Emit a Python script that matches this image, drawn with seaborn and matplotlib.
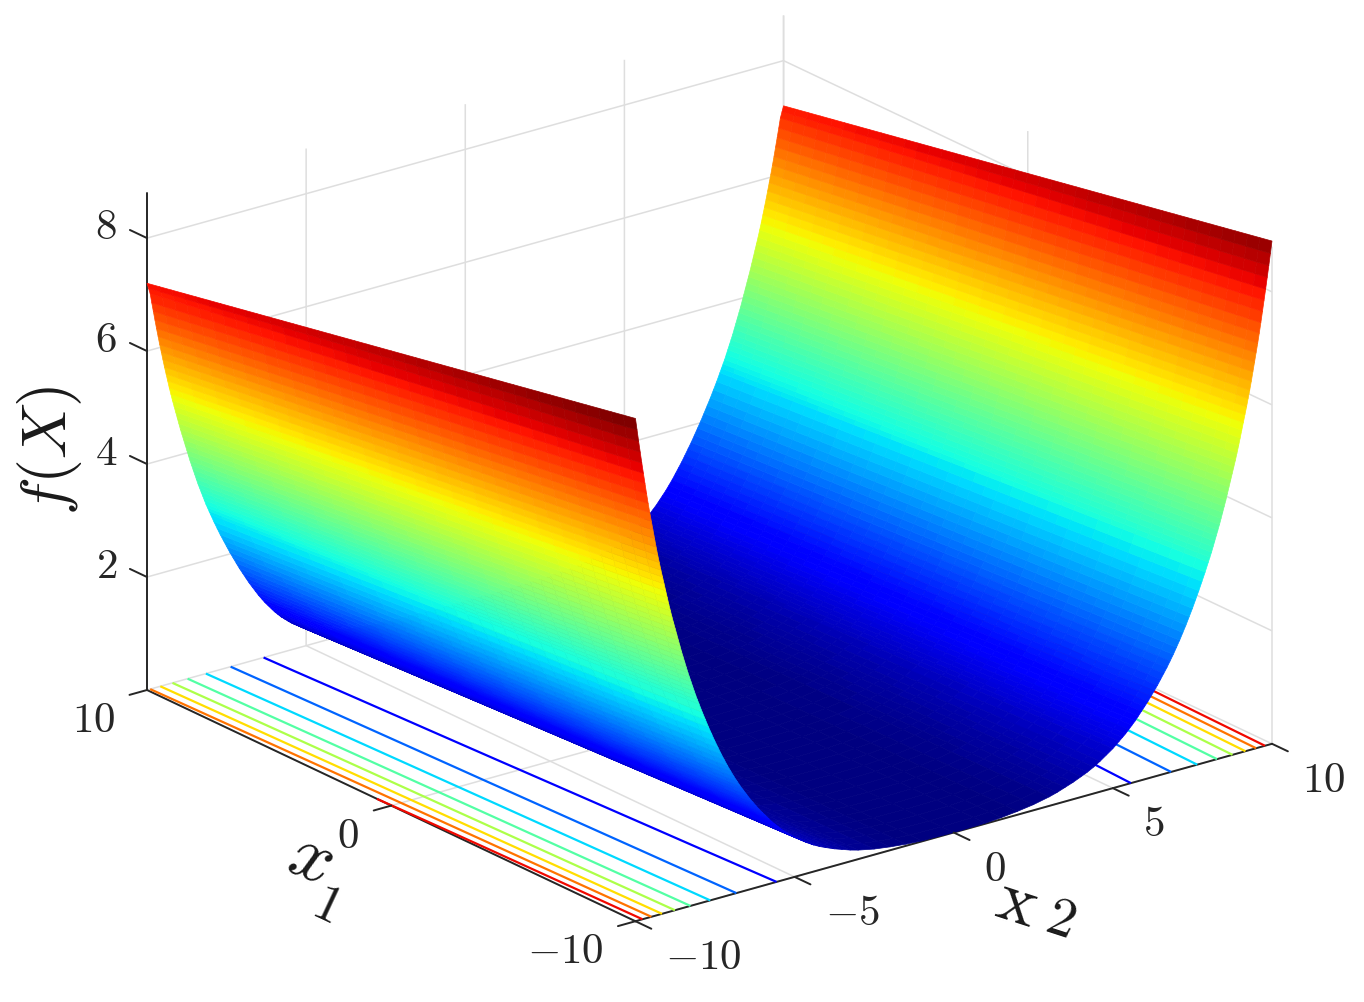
#!/usr/bin/env python3
"""Surface of f(X) over x1, x2 with floor contours, read off the reference picture."""

import numpy as np
import matplotlib
matplotlib.use('Agg')
import matplotlib.pyplot as plt
import seaborn as sns
from mpl_toolkits.mplot3d import proj3d

FIG_W, FIG_H = 1364, 1003

# |x2| where the profiles were read, from the rim to the valley
x2_half = [10.00, 9.95, 9.90, 9.85, 9.80, 9.75, 9.70, 9.65, 9.60, 9.55,
           9.50, 9.45, 9.40, 9.35, 9.30, 9.25, 9.20, 9.15, 9.10, 9.05,
           9.00, 8.95, 8.90, 8.85, 8.80, 8.75, 8.70, 8.65, 8.60, 8.55,
           8.50, 8.45, 8.40, 8.35, 8.30, 8.25, 8.20, 8.15, 8.10, 8.05, 8.00,
           7.9, 7.8, 7.7, 7.6, 7.5, 7.4, 7.3, 7.2, 7.1, 7.0,
           6.9, 6.8, 6.7, 6.6, 6.5, 6.4, 6.3, 6.2, 6.1, 6.0,
           5.9, 5.8, 5.7, 5.6, 5.5, 5.4, 5.3, 5.2, 5.1, 5.0,
           4.8, 4.6, 4.4, 4.2, 4.0, 3.75, 3.5, 3.25, 3.0, 2.5, 2.0, 1.5, 1.0]

# f along the edge x1 = -10
f_front = [8.90, 8.69, 8.48, 8.28, 8.08, 7.89, 7.70, 7.51, 7.33, 7.16,
           7.00, 6.84, 6.68, 6.52, 6.37, 6.23, 6.09, 5.96, 5.83, 5.70,
           5.57, 5.44, 5.32, 5.20, 5.09, 4.98, 4.87, 4.76, 4.65, 4.54,
           4.44, 4.34, 4.24, 4.14, 4.05, 3.96, 3.87, 3.78, 3.69, 3.61, 3.53,
           3.37, 3.22, 3.07, 2.93, 2.79, 2.66, 2.53, 2.41, 2.29, 2.18,
           2.07, 1.97, 1.87, 1.78, 1.69, 1.60, 1.52, 1.44, 1.36, 1.29,
           1.22, 1.15, 1.08, 1.02, 0.96, 0.90, 0.85, 0.80, 0.75, 0.70,
           0.62, 0.54, 0.47, 0.41, 0.36, 0.30, 0.25, 0.20, 0.16, 0.10, 0.06, 0.03, 0.01]

# f along the edge x1 = 10
f_back = [7.20, 7.10, 7.00, 6.83, 6.67, 6.51, 6.35, 6.20, 6.05, 5.91,
          5.77, 5.63, 5.50, 5.37, 5.24, 5.12, 5.00, 4.89, 4.78, 4.67,
          4.56, 4.45, 4.35, 4.25, 4.15, 4.05, 3.95, 3.85, 3.76, 3.67,
          3.58, 3.49, 3.40, 3.32, 3.24, 3.16, 3.08, 3.00, 2.93, 2.86, 2.79,
          2.65, 2.52, 2.39, 2.27, 2.15, 2.03, 1.92, 1.81, 1.70, 1.60,
          1.50, 1.40, 1.31, 1.22, 1.13, 1.05, 0.97, 0.90, 0.83, 0.76,
          0.70, 0.64, 0.59, 0.54, 0.49, 0.45, 0.41, 0.37, 0.33, 0.30,
          0.25, 0.21, 0.17, 0.14, 0.12, 0.09, 0.07, 0.05, 0.04, 0.02, 0.01, 0.01, 0.00]

f_valley = [0.0]

x1_rows = [-10, -9.5, -9, -8.5, -8, -7.5, -7, -6.5, -6, -5.5, -5, -4.5, -4, -3.5, -3, -2.5, -2, -1.5, -1, -0.5, 0,
           0.5, 1, 1.5, 2, 2.5, 3, 3.5, 4, 4.5, 5, 5.5, 6, 6.5, 7, 7.5, 8, 8.5, 9, 9.5, 10]
back_share = [0.0, 0.025, 0.05, 0.075, 0.1, 0.125, 0.15, 0.175, 0.2, 0.225, 0.25,
              0.275, 0.3, 0.325, 0.35, 0.375, 0.4, 0.425, 0.45, 0.475, 0.5,
              0.525, 0.55, 0.575, 0.6, 0.625, 0.65, 0.675, 0.7, 0.725, 0.75,
              0.775, 0.8, 0.825, 0.85, 0.875, 0.9, 0.925, 0.95, 0.975, 1.0]

# The colour bands tilt less than the heights do: the back edge reads this much hotter
back_colour_gain = 1.1

contour_levels = [1, 2, 3, 4, 5, 6, 7, 8]

x2_ticks = [-10, -5, 0, 5, 10]
x2_labels = ['$-10$', '$-5$', '$0$', '$5$', '$10$']
x1_ticks = [-10, 0, 10]
x1_labels = ['$-10$', '$0$', '$10$']
z_ticks = [2, 4, 6, 8]
z_labels = ['$2$', '$4$', '$6$', '$8$']

INK = '#262626'
F_MAX = 8.9

sns.set_theme(style='white', rc={
    'grid.color': '#dedede',
    'grid.linewidth': 1.1,
    'mathtext.fontset': 'cm',
})

# Both sides of the valley read the same, so the half profile is mirrored
x2 = np.array([-v for v in x2_half] + [0.0] + x2_half[::-1])
front = np.array(f_front + f_valley + f_front[::-1])
back = np.array(f_back + f_valley + f_back[::-1])
share = np.array(back_share)
Z = np.outer(1 - share, front) + np.outer(share, back)
C = np.outer(1 - share, front) + np.outer(share, back * back_colour_gain)
X2, X1 = np.meshgrid(x2, np.array(x1_rows))

jet = plt.get_cmap('jet')

fig = plt.figure(figsize=(FIG_W / 100, FIG_H / 100), dpi=100)
ax = fig.add_axes([0, 0, 1, 1], projection='3d', proj_type='ortho', computed_zorder=False)
ax.patch.set_alpha(0)

ax.contour(X2, X1, Z, levels=contour_levels, zdir='z', offset=0, cmap=jet,
           vmin=0, vmax=F_MAX, linewidths=1.6, zorder=1)
ax.plot_surface(X2, X1, Z, facecolors=jet(C / F_MAX), rstride=1, cstride=1,
                linewidth=0.5, shade=False, zorder=2)

ax.set_xlim(-10, 10, view_margin=0)
ax.set_ylim(-10, 10, view_margin=0)
ax.set_zlim(0, 8.8, view_margin=0)
ax.set_box_aspect((800, 800, 532))
ax.view_init(elev=21.3, azim=-127.5)

ax.set_xticks(x2_ticks, [''] * len(x2_ticks))
ax.set_yticks(x1_ticks, [''] * len(x1_ticks))
ax.set_zticks(z_ticks, [''] * len(z_ticks))

for axis in (ax.xaxis, ax.yaxis, ax.zaxis):
    axis.set_pane_color((1, 1, 1, 0))
    axis.pane.set_edgecolor((1, 1, 1, 0))
    axis.line.set_color(INK)
    axis.line.set_linewidth(1.4)
    axis._axinfo['tick']['inward_factor'] = 0.0
    axis._axinfo['tick']['outward_factor'] = 0.0

# Tick marks stick out of the box the way the reference has them
for t in x2_ticks:
    ax.plot([t, t], [-10, -10.65], [0, 0], color=INK, lw=1.4, zorder=3)
for t in x1_ticks:
    ax.plot([-10, -10.55], [t, t], [0, 0], color=INK, lw=1.4, zorder=3)
for t in z_ticks:
    ax.plot([-10, -10], [10, 10.7], [t, t], color=INK, lw=1.4, zorder=3)


def corner_px(x, y, z):
    xs, ys, _ = proj3d.proj_transform(x, y, z, ax.get_proj())
    return ax.transData.transform((xs, ys))


# Size the axes so the floor corners land where the reference has them
side = 1300.0
ax.set_position([0, 0, side / FIG_W, side / FIG_H])
fig.canvas.draw()
left = corner_px(-10, 10, 0)
right = corner_px(10, -10, 0)
side *= (1272 - 147) / (right[0] - left[0])
ax.set_position([0, 0, side / FIG_W, side / FIG_H])
fig.canvas.draw()
left = corner_px(-10, 10, 0)
ax.set_position([(147 - left[0]) / FIG_W, (FIG_H - 691 - left[1]) / FIG_H,
                 side / FIG_W, side / FIG_H])
fig.canvas.draw()


def tick_label(x, y, z, text, dx, dy, ha):
    px, py = corner_px(x, y, z)
    fig.text((px + dx) / FIG_W, (py - dy) / FIG_H, text, fontsize=31, color=INK,
             ha=ha, va='center')


for t, s in zip(x2_ticks, x2_labels):
    tick_label(t, -10, 0, s, 30, 35, 'left')
for t, s in zip(x1_ticks, x1_labels):
    tick_label(-10, t, 0, s, -32, 29, 'right')
for t, s in zip(z_ticks, z_labels):
    tick_label(-10, 10, t, s, -30, -12, 'right')


def label(px, py, text, size, rotation):
    fig.text(px / FIG_W, 1 - py / FIG_H, text, fontsize=size, rotation=rotation,
             ha='center', va='center', color='#1a1a1a')


label(50, 450, '$f(X)$', 46, 90)
label(311, 858, '$x$', 54, -22)
label(326, 905, '$\\mathit{1}$', 38, -25)
label(1017, 903, '$\\mathrm{x}$', 52, -18)
label(1060, 920, '$\\mathrm{2}$', 40, -18)

fig.savefig('out.png', dpi=100)
